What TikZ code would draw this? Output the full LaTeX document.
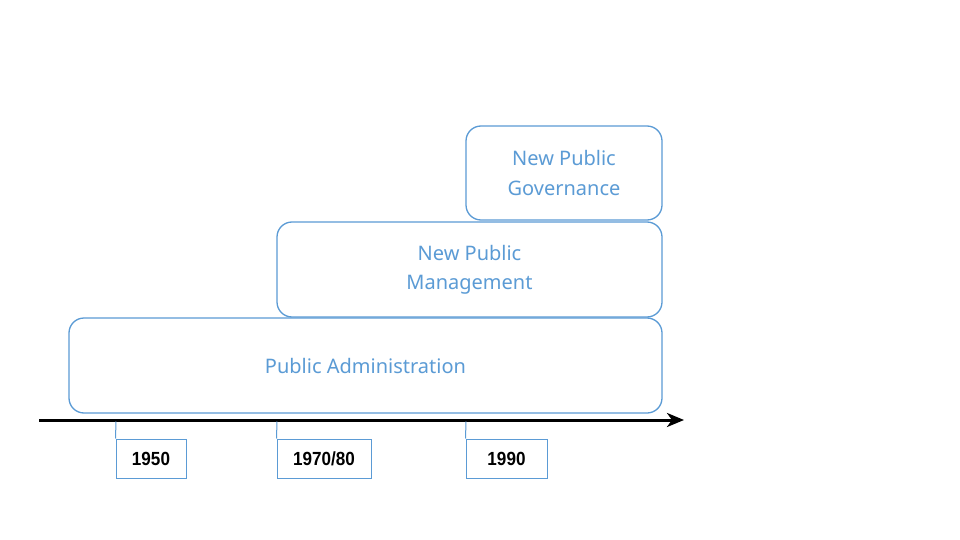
\documentclass[tikz,border=0pt]{standalone}
\usepackage{fontspec}
\setmainfont{Noto Sans}
\newfontfamily\yearfont{Liberation Sans}
\usetikzlibrary{arrows.meta}
\definecolor{bl}{HTML}{5B9BD5}
\tikzset{
  era/.style={draw=bl, line width=1.3pt, rounded corners=15pt, text=bl,
    font=\fontsize{20}{29}\selectfont, align=center, inner sep=0pt, fill=white},
  yearbox/.style={draw=bl, line width=1pt, inner sep=0pt,
    font=\yearfont\bfseries\fontsize{19}{22}\selectfont},
  tick/.style={draw=bl, line width=1pt},
  axis/.style={line width=3pt, -{Stealth[length=17pt,width=14pt,inset=5pt]}}
}
\newcommand{\yr}[1]{\scalebox{0.9}[1]{#1}}
\begin{document}
\begin{tikzpicture}[x=1pt,y=-1pt]
\useasboundingbox (0,0) rectangle (960,540);
\fill[white] (0,0) rectangle (960,540);
\node[era, minimum width=593pt, minimum height=95pt] (pa) at (365.5,365.5) {Public Administration};
\node[era, minimum width=385pt, minimum height=95pt] (npm) at (469.5,269.5) {New Public\\Management};
\node[era, minimum width=196pt, minimum height=94pt] (npg) at (564,173) {New Public\\Governance};
\coordinate (a0) at (39,420);
\coordinate (a1) at (684,420);
\draw[axis] (a0) -- (a1);
\node[yearbox, minimum width=70pt, minimum height=39pt] (y1) at (151,458.5) {\yr{1950}};
\node[yearbox, minimum width=94pt, minimum height=39pt] (y2) at (324,458.5) {\yr{1970/80}};
\node[yearbox, minimum width=81pt, minimum height=39pt] (y3) at (506.5,458.5) {\yr{1990}};
\coordinate (t1) at (116,421.5);
\coordinate (t2) at (277,421.5);
\coordinate (t3) at (466,421.5);
\draw[tick] (y1.north west) -- (t1);
\draw[tick] (y2.north west) -- (t2);
\draw[tick] (y3.north west) -- (t3);
\end{tikzpicture}
\end{document}
